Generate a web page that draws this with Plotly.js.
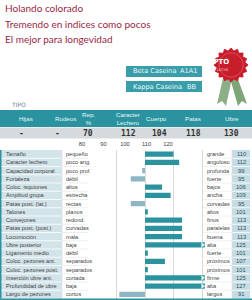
<!DOCTYPE html>
<html><head><meta charset="utf-8">
<script src="https://cdn.plot.ly/plotly-3.0.1.min.js"></script>
<style>html,body{margin:0;padding:0;background:#fff}#c{width:252px;height:300px}</style>
</head><body><div id="c"></div>
<script>
const titleLines = ["Holando colorado", "Tremendo en indices como pocos", "El mejor para longevidad"];
const caseinNames = ["Beta Caseina", "Kappa Caseina"];
const caseinTypes = ["A1A1", "BB"];
const headerCols = ["Hijas", "Rodeos", "Rep.<br>%", "Caracter<br>Lechero", "Cuerpo", "Patas", "Ubre"];
const headerVals = ["-", "-", "70", "112", "104", "118", "130"];
const traits = ["Tamaño", "Caracter lechero", "Capacidad corporal", "Fortaleza", "Coloc. isquiones", "Amplitud grupa",
  "Patas post. (lat.)", "Talones", "Convejones", "Patas post. (post.)", "Locomoción", "Ubre posterior",
  "Ligamento medio", "Coloc. pezones ant.", "Coloc. pezones post.", "Inserción ubre ant.", "Profundidad de ubre", "Largo de pezones"];
const lowLabels = ["pequeño", "poco ang.", "poco prof.", "débil", "altos", "estrecha", "rectas", "planos", "redond.",
  "curvadas", "mala", "baja", "débil", "separados", "separados", "cortada", "baja", "cortos"];
const highLabels = ["grande", "anguloso", "profunda", "fuerte", "bajos", "ancha", "curvadas", "altos", "finos",
  "paralelas", "buena", "alta", "fuerte", "próximos", "próximos", "firme", "alta", "largos"];
const values = [110, 112, 99, 95, 106, 109, 95, 101, 113, 113, 113, 125, 101, 107, 101, 125, 127, 91];
const tickVals = [80, 90, 100, 110, 120];

const W = 252, H = 300;
const px = x => x / W, py = y => 1 - y / H;
const TEAL = '#2b93a0', LIGHT = '#8fb6c4', CELL = '#d3e3ea', MAROON = '#9a1f45';
const AXMIN = 80, AXMAX = 121;
const ROWFONT = {family:'Liberation Sans, Arial, sans-serif', size:5.6, color:'#3f3f3f'};

const shapes = [], annotations = [];
// titles
titleLines.forEach((t, i) => annotations.push({xref:'paper', yref:'paper', x:px(3), y:py(8 + i*15.5), xanchor:'left', yanchor:'middle',
  text:t, showarrow:false, font:{family:'Lato, Open Sans, sans-serif', size:10, color:MAROON}}));
// casein boxes
caseinNames.forEach((n, i) => {
  const y0 = 66 + i*15;
  shapes.push({type:'rect', xref:'paper', yref:'paper', x0:px(126), x1:px(202), y0:py(y0), y1:py(y0+11), fillcolor:'#3a9eaa', line:{width:0}});
  annotations.push({xref:'paper', yref:'paper', x:px(131), y:py(y0+5.5), xanchor:'left', yanchor:'middle', text:n, showarrow:false,
    font:{family:'DejaVu Sans', size:6.6, color:'#eef8fa'}});
  annotations.push({xref:'paper', yref:'paper', x:px(199), y:py(y0+5.5), xanchor:'right', yanchor:'middle', text:caseinTypes[i], showarrow:false,
    font:{family:'DejaVu Sans', size:6.6, color:'#eef8fa'}});
});
// badge ribbons
const P = (pts) => 'M' + pts.map(p => px(p[0]) + ',' + py(p[1])).join(' L') + ' Z';
shapes.push({type:'path', xref:'paper', yref:'paper', path:P([[224,74],[232,78],[226,106],[222,101],[217,104]]), fillcolor:'#8daf88', line:{width:0}});
shapes.push({type:'path', xref:'paper', yref:'paper', path:P([[236,74],[230,78],[238,106],[242,101],[247,104]]), fillcolor:'#7da578', line:{width:0}});
// rosette
const cx = 231, cy = 65, pts = [];
for (let k = 0; k < 96; k++) { const a = k/96*2*Math.PI; const r = 16 + 1.3*Math.cos(a*16); pts.push([cx + r*Math.cos(a), cy + r*Math.sin(a)]); }
shapes.push({type:'path', xref:'paper', yref:'paper', path:P(pts), fillcolor:'#c81e2c', line:{width:0}});
const pts2 = [];
for (let k = 0; k < 64; k++) { const a = k/64*2*Math.PI; pts2.push([cx + 12*Math.cos(a), cy + 12*Math.sin(a)]); }
shapes.push({type:'path', xref:'paper', yref:'paper', path:P(pts2), fillcolor:'rgba(0,0,0,0)', line:{width:0.6, color:'#e8707a'}});
annotations.push({xref:'paper', yref:'paper', x:px(cx), y:py(62), yanchor:'middle', text:'<b>APTO</b>', showarrow:false, font:{family:'DejaVu Sans', size:7, color:'#fff'}});
annotations.push({xref:'paper', yref:'paper', x:px(cx), y:py(69.5), yanchor:'middle', text:'A2 LECHE', showarrow:false, font:{family:'DejaVu Sans', size:3.6, color:'#f5c9cc'}});
// TIPO
annotations.push({xref:'paper', yref:'paper', x:px(9), y:py(104), xanchor:'left', text:'TIPO', showarrow:false, font:{family:'DejaVu Sans', size:6, color:'#5d8794'}});
// header
shapes.push({type:'rect', xref:'paper', yref:'paper', x0:0, x1:1, y0:py(127), y1:py(110), fillcolor:TEAL, line:{width:0}});
shapes.push({type:'rect', xref:'paper', yref:'paper', x0:0, x1:1, y0:py(138.5), y1:py(127.5), fillcolor:'#d6dadc', line:{width:0}});
const colX = [17, 53, 88, 128, 169, 203, 241];
headerCols.forEach((t, i) => {
  annotations.push({xref:'paper', yref:'paper', x:px(colX[i]), y:py(118.5), text:t, showarrow:false, align:'center',
    font:{family:'Liberation Sans, Arial, sans-serif', size:6.2, color:'#e9f6f8'}});
  annotations.push({xref:'paper', yref:'paper', x:px(colX[i]), y:py(133), text:'<b>' + headerVals[i] + '</b>', showarrow:false,
    font:{family:'DejaVu Sans Mono, monospace', size:8, color:'#333'}});
});
// table backgrounds
const T0 = 150, T1 = 298.5;
shapes.push({type:'rect', xref:'paper', yref:'paper', x0:0, x1:px(62), y0:py(T1), y1:py(T0), fillcolor:CELL, line:{width:0}, layer:'below'});
shapes.push({type:'rect', xref:'paper', yref:'paper', x0:0, x1:px(1.5), y0:py(T1), y1:py(T0), fillcolor:TEAL, line:{width:0}});
shapes.push({type:'rect', xref:'paper', yref:'paper', x0:px(232), x1:px(250), y0:py(T1), y1:py(T0), fillcolor:'#c6dce4', line:{width:0}, layer:'below'});
shapes.push({type:'rect', xref:'paper', yref:'paper', x0:0, x1:1, y0:py(300), y1:py(T1), fillcolor:TEAL, line:{width:0}});
// row separators
for (let i = 0; i < traits.length - 1; i++) {
  shapes.push({type:'line', xref:'paper', yref:'y', x0:px(1.5), x1:px(62), y0:i+0.5, y1:i+0.5, line:{color:'#ffffff', width:0.8}});
  shapes.push({type:'line', xref:'paper', yref:'y', x0:px(62), x1:px(88), y0:i+0.5, y1:i+0.5, line:{color:'#dcdcdc', width:0.5}});
  shapes.push({type:'line', xref:'paper', yref:'y', x0:px(203), x1:px(232), y0:i+0.5, y1:i+0.5, line:{color:'#e2e2e2', width:0.5}});
  shapes.push({type:'line', xref:'paper', yref:'y', x0:px(232), x1:px(250), y0:i+0.5, y1:i+0.5, line:{color:'#ffffff', width:0.8}});
}
shapes.push({type:'line', xref:'paper', yref:'paper', x0:px(62), x1:px(62), y0:py(T1), y1:py(T0), line:{color:'#dcdcdc', width:0.6}});
shapes.push({type:'line', xref:'paper', yref:'paper', x0:px(232), x1:px(232), y0:py(T1), y1:py(T0), line:{color:'#dcdcdc', width:0.6}});
// row texts
traits.forEach((t, i) => {
  annotations.push({xref:'paper', yref:'y', x:px(3.5), y:t, xanchor:'left', yanchor:'middle', text:t, showarrow:false, font:ROWFONT});
  annotations.push({xref:'paper', yref:'y', x:px(63.5), y:t, xanchor:'left', yanchor:'middle', text:lowLabels[i], showarrow:false, font:ROWFONT});
  annotations.push({xref:'paper', yref:'y', x:px(205), y:t, xanchor:'left', yanchor:'middle', text:highLabels[i], showarrow:false, font:ROWFONT});
  annotations.push({xref:'paper', yref:'y', x:px(241), y:t, xanchor:'center', yanchor:'middle', text:String(values[i]), showarrow:false,
    font:{family:'Liberation Sans, Arial, sans-serif', size:5.8, color:'#2c5566'}});
});

const barX = values.map(v => v - 100);
const barColors = values.map(v => v >= 100 ? TEAL : LIGHT);
const overT = traits.filter((t, i) => values[i] > 120);
const overX = overT.map(() => 120.2);

const data = [
  {type:'bar', orientation:'h', y:traits, x:barX, base:100, marker:{color:barColors, line:{width:0}}, width:0.66, hoverinfo:'skip', xaxis:'x', yaxis:'y'},
  {type:'scatter', mode:'markers', y:overT, x:overX, marker:{symbol:'triangle-right', size:5, color:'#d9eef2', line:{width:0}}, hoverinfo:'skip', xaxis:'x', yaxis:'y'},
  {type:'scatter', mode:'markers', x:tickVals, y:tickVals, marker:{opacity:0}, hoverinfo:'skip', xaxis:'x2', yaxis:'y2'}
];

const layout = {
  width: W, height: H, margin:{l:0, r:0, t:0, b:0}, paper_bgcolor:'#fff', plot_bgcolor:'rgba(0,0,0,0)', showlegend:false,
  xaxis:{domain:[px(88), px(88 + (AXMAX-AXMIN)*2.85)], range:[AXMIN, AXMAX], tickvals:tickVals, showticklabels:false, showgrid:true,
    gridcolor:'#c8c8c8', gridwidth:0.7, zeroline:false, showline:false, ticks:'', fixedrange:true},
  yaxis:{domain:[py(T1), py(T0)], type:'category', categoryarray:traits, range:[traits.length - 0.5, -0.5], showticklabels:false,
    showgrid:false, zeroline:false, showline:false, ticks:'', fixedrange:true},
  xaxis2:{domain:[px(82), px(168)], range:[AXMIN, AXMAX - 1], anchor:'free', position:py(139), tickvals:tickVals, showgrid:false,
    zeroline:false, showline:false, ticks:'', tickfont:{family:'Liberation Sans, Arial, sans-serif', size:5.8, color:'#444'}},
  yaxis2:{domain:[py(140), py(139)], anchor:'x2', visible:false, range:[0, 1]},
  shapes: shapes, annotations: annotations
};
Plotly.newPlot('c', data, layout, {staticPlot:true, displayModeBar:false});
</script></body></html>
